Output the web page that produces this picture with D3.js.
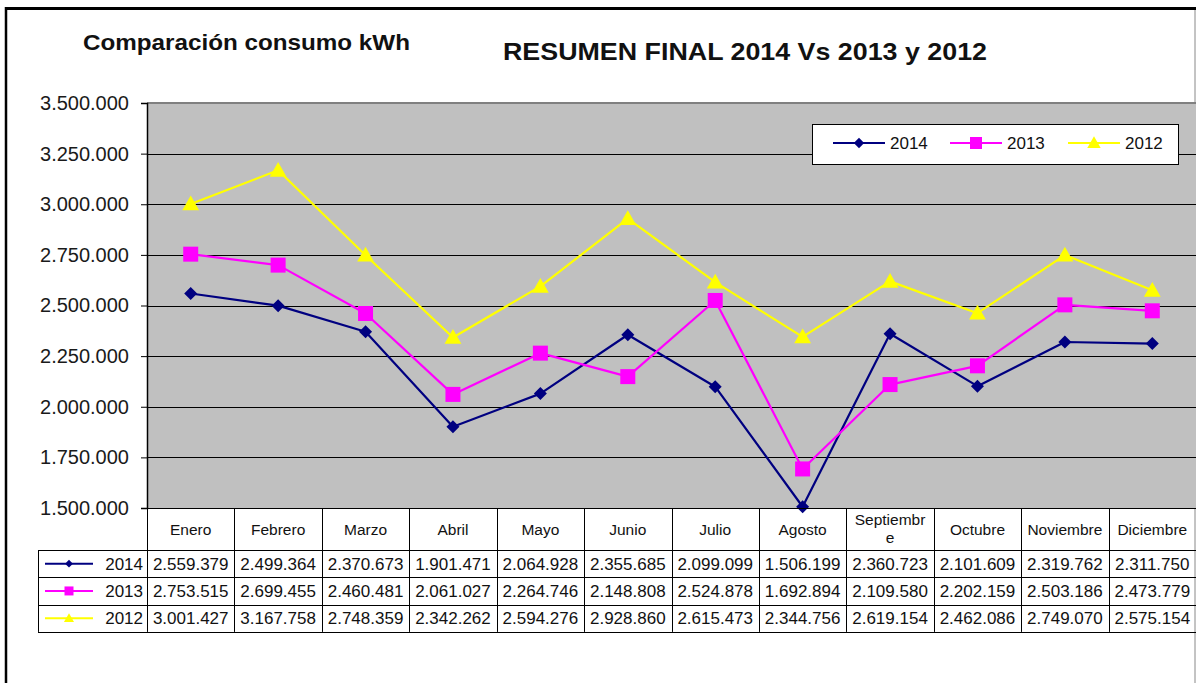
<!DOCTYPE html>
<html>
<head>
<meta charset="utf-8">
<script src="https://cdn.jsdelivr.net/npm/d3@7"></script>
<style>
  html, body { margin: 0; padding: 0; background: #fff; }
  svg { display: block; font-family: "Liberation Sans", Arial, sans-serif; }
</style>
</head>
<body>
<svg id="chart" width="1196" height="683"></svg>
<script>
// Monthly electricity consumption (kWh)
const months = ["Enero", "Febrero", "Marzo", "Abril", "Mayo", "Junio", "Julio",
  "Agosto", "Septiembre", "Octubre", "Noviembre", "Diciembre"];
const years = ["2014", "2013", "2012"];
const values2014 = [2559379, 2499364, 2370673, 1901471, 2064928, 2355685, 2099099,
  1506199, 2360723, 2101609, 2319762, 2311750];
const values2013 = [2753515, 2699455, 2460481, 2061027, 2264746, 2148808, 2524878,
  1692894, 2109580, 2202159, 2503186, 2473779];
const values2012 = [3001427, 3167758, 2748359, 2342262, 2594276, 2928860, 2615473,
  2344756, 2619154, 2462086, 2749070, 2575154];
const yTicks = [1500000, 1750000, 2000000, 2250000, 2500000, 2750000, 3000000, 3250000, 3500000];

const seriesValues = [values2014, values2013, values2012];
const colors = { "2014": "#000080", "2013": "#ff00ff", "2012": "#ffff00" };
const shapes = { "2014": "diamond", "2013": "square", "2012": "triangle" };

const locale = d3.formatLocale({ decimal: ",", thousands: ".", grouping: [3], currency: ["", ""] });
const fmt = locale.format(",d");

const svg = d3.select("#chart");
const plot = { left: 147, right: 1196, top: 103, bottom: 508 };

const x = d3.scaleBand().domain(months).range([plot.left, plot.right]).padding(0);
const y = d3.scaleLinear().domain([1500000, 3500000]).range([plot.bottom, plot.top]);

// marker path generator, r = half size
function markerPath(shape, r) {
  if (shape === "diamond") return `M0,${-r}L${r},0L0,${r}L${-r},0Z`;
  if (shape === "square") return `M${-r},${-r}H${r}V${r}H${-r}Z`;
  return `M0,${-r * 1.05}L${r * 1.05},${r * 0.8}H${-r * 1.05}Z`;
}
const markerSize = { diamond: 6.5, square: 7.5, triangle: 8 };

// outer frame
svg.append("rect").attr("x", 6).attr("y", 9).attr("width", 1189).attr("height", 690)
  .attr("fill", "#fff").attr("stroke", "#888").attr("stroke-width", 1);
svg.append("line").attr("x1", 5).attr("x2", 1196).attr("y1", 8.5).attr("y2", 8.5)
  .attr("stroke", "#000").attr("stroke-width", 3);
svg.append("line").attr("x1", 6).attr("x2", 6).attr("y1", 7).attr("y2", 683)
  .attr("stroke", "#000").attr("stroke-width", 2.5);

// titles
svg.append("text").attr("x", 83).attr("y", 50)
  .attr("font-size", 22).attr("font-weight", "bold").attr("fill", "#111")
  .attr("textLength", 327).attr("lengthAdjust", "spacingAndGlyphs")
  .text("Comparación consumo kWh");
svg.append("text").attr("x", 503).attr("y", 60)
  .attr("font-size", 24).attr("font-weight", "bold").attr("fill", "#111")
  .attr("textLength", 484).attr("lengthAdjust", "spacingAndGlyphs")
  .text("RESUMEN  FINAL 2014 Vs 2013 y 2012");

// plot background
svg.append("rect").attr("x", plot.left).attr("y", plot.top)
  .attr("width", plot.right - plot.left).attr("height", plot.bottom - plot.top)
  .attr("fill", "#c0c0c0");
svg.append("line").attr("x1", plot.left).attr("x2", plot.right)
  .attr("y1", plot.top).attr("y2", plot.top)
  .attr("stroke", "#808080").attr("stroke-width", 2);

// gridlines
svg.append("g").selectAll("line").data(yTicks.slice(1, -1)).join("line")
  .attr("x1", plot.left).attr("x2", plot.right)
  .attr("y1", d => Math.round(y(d)) + 0.5).attr("y2", d => Math.round(y(d)) + 0.5)
  .attr("stroke", "#000").attr("stroke-width", 1);

// y axis
const yAxis = svg.append("g").attr("transform", `translate(${plot.left},0)`)
  .call(d3.axisLeft(y).tickValues(yTicks).tickFormat(fmt).tickSize(6).tickPadding(12));
yAxis.select(".domain").attr("stroke", "#000").attr("stroke-width", 1.5);
yAxis.selectAll(".tick line").attr("stroke", "#000");
yAxis.selectAll(".tick text").attr("font-size", 20).attr("fill", "#1a1a1a")
  .attr("font-family", "'Liberation Sans', Arial, sans-serif");

// series lines and markers
const line = d3.line().x((d, i) => x(months[i]) + x.bandwidth() / 2).y(d => y(d));
years.forEach((yr, si) => {
  const g = svg.append("g");
  g.append("path").datum(seriesValues[si]).attr("d", line)
    .attr("fill", "none").attr("stroke", colors[yr]).attr("stroke-width", 2.2)
    .attr("stroke-linejoin", "round");
  g.selectAll("path.m").data(seriesValues[si]).join("path").attr("class", "m")
    .attr("transform", (d, i) => `translate(${x(months[i]) + x.bandwidth() / 2},${y(d)})`)
    .attr("d", markerPath(shapes[yr], markerSize[shapes[yr]]))
    .attr("fill", colors[yr]);
});

// legend
const lg = svg.append("g");
lg.append("rect").attr("x", 812.5).attr("y", 124.5).attr("width", 366).attr("height", 40)
  .attr("fill", "#fff").attr("stroke", "#000").attr("stroke-width", 1);
const legendX = [833, 950, 1068];
years.forEach((yr, i) => {
  const gx = legendX[i], gy = 143;
  lg.append("line").attr("x1", gx).attr("x2", gx + 52).attr("y1", gy).attr("y2", gy)
    .attr("stroke", colors[yr]).attr("stroke-width", 2);
  lg.append("path").attr("transform", `translate(${gx + 26},${gy})`)
    .attr("d", markerPath(shapes[yr], markerSize[shapes[yr]] * 0.8)).attr("fill", colors[yr]);
  lg.append("text").attr("x", gx + 57).attr("y", gy + 6).attr("font-size", 17)
    .attr("fill", "#111").text(yr);
});

// data table
const tbl = svg.append("g");
const headerBottom = 550, rowH = 27.3, tableLeft = 38;
const rowTops = years.map((yr, i) => headerBottom + i * rowH);
const tableBottom = headerBottom + years.length * rowH;
const colEdges = months.map(m => x(m)).concat([plot.right]);

// vertical lines
tbl.selectAll("line.v").data(colEdges).join("line").attr("class", "v")
  .attr("x1", d => Math.round(d) + 0.5).attr("x2", d => Math.round(d) + 0.5)
  .attr("y1", plot.bottom).attr("y2", tableBottom)
  .attr("stroke", "#000").attr("stroke-width", 1);
tbl.append("line").attr("x1", tableLeft + 0.5).attr("x2", tableLeft + 0.5)
  .attr("y1", headerBottom).attr("y2", tableBottom).attr("stroke", "#000");
// horizontal lines
tbl.selectAll("line.h").data(rowTops.concat([tableBottom])).join("line").attr("class", "h")
  .attr("x1", tableLeft).attr("x2", plot.right)
  .attr("y1", d => Math.round(d) + 0.5).attr("y2", d => Math.round(d) + 0.5)
  .attr("stroke", "#000").attr("stroke-width", 1);
tbl.append("line").attr("x1", plot.left).attr("x2", plot.right)
  .attr("y1", plot.bottom + 0.5).attr("y2", plot.bottom + 0.5).attr("stroke", "#000");

// header labels
months.forEach(m => {
  const cx = x(m) + x.bandwidth() / 2;
  const t = tbl.append("text").attr("text-anchor", "middle").attr("font-size", 15.5)
    .attr("fill", "#111");
  if (m === "Septiembre") {
    t.append("tspan").attr("x", cx).attr("y", 525).text("Septiembr");
    t.append("tspan").attr("x", cx).attr("y", 543).text("e");
  } else {
    t.attr("x", cx).attr("y", 535).text(m);
  }
});

// series rows
years.forEach((yr, si) => {
  const cy = rowTops[si] + rowH / 2;
  tbl.append("line").attr("x1", 45).attr("x2", 93).attr("y1", cy).attr("y2", cy)
    .attr("stroke", colors[yr]).attr("stroke-width", 2);
  tbl.append("path").attr("transform", `translate(69,${cy})`)
    .attr("d", markerPath(shapes[yr], markerSize[shapes[yr]] * 0.6)).attr("fill", colors[yr]);
  tbl.append("text").attr("x", 143).attr("y", cy + 6).attr("text-anchor", "end")
    .attr("font-size", 17).attr("fill", "#111").text(yr);
  seriesValues[si].forEach((v, i) => {
    tbl.append("text").attr("x", x(months[i]) + x.bandwidth() / 2).attr("y", cy + 6)
      .attr("text-anchor", "middle").attr("font-size", 17).attr("fill", "#111")
      .text(fmt(v));
  });
});
</script>
</body>
</html>
